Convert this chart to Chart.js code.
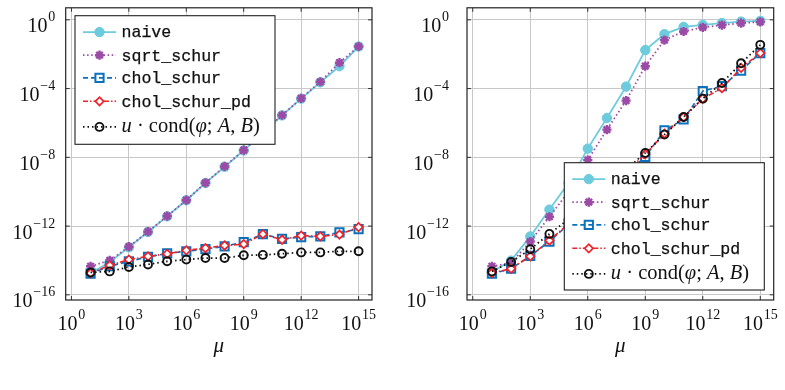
<!DOCTYPE html>
<html>
<head>
<meta charset="utf-8">
<script src="https://cdn.jsdelivr.net/npm/chart.js@4.4.0/dist/chart.umd.min.js"></script>
<style>
html, body { margin: 0; padding: 0; background: #fff; }
#wrap { position: relative; width: 785px; height: 390px; }
.pane { position: absolute; top: 0; }
</style>
</head>
<body>
<div id="wrap">
  <canvas id="left" class="pane" style="left:0" width="392" height="390"></canvas>
  <canvas id="right" class="pane" style="left:392px" width="393" height="390"></canvas>
</div>
<script>
// x values (mu) shared by both panels
const mu = [1e1, 1e2, 1e3, 1e4, 1e5, 1e6, 1e7, 1e8, 1e9, 1e10, 1e11, 1e12, 1e13, 1e14, 1e15];

// left panel
const leftNaive  = [1.86e-15, 7.9e-15, 5.8e-14, 4.5e-13, 3.7e-12, 3.2e-11, 3.2e-10, 2.8e-9, 2.5e-8, 2.7e-7, 2.75e-6, 2.6e-5, 2.3e-4, 2.0e-3, 2.8e-2];
const leftSqrt   = [4.6e-15, 1.0e-14, 6.3e-14, 4.7e-13, 3.8e-12, 3.2e-11, 3.3e-10, 2.95e-9, 2.6e-8, 2.8e-7, 2.8e-6, 2.7e-5, 2.5e-4, 3.2e-3, 2.8e-2];
const leftChol   = [1.7e-15, 4.6e-15, 8.9e-15, 1.6e-14, 2.6e-14, 3.4e-14, 4.6e-14, 6.6e-14, 1.17e-13, 3.4e-13, 1.8e-13, 2.3e-13, 2.5e-13, 4.3e-13, 6.6e-13];
const leftCholPd = [1.8e-15, 5.2e-15, 1.12e-14, 1.74e-14, 2.4e-14, 3.9e-14, 5.2e-14, 7.4e-14, 8.9e-14, 3.4e-13, 1.6e-13, 2.8e-13, 2.5e-13, 3.2e-13, 8.7e-13];
const leftCond   = [2.0e-15, 2.3e-15, 4.2e-15, 5.8e-15, 8.9e-15, 1.12e-14, 1.38e-14, 1.38e-14, 2.0e-14, 2.1e-14, 2.45e-14, 2.95e-14, 2.95e-14, 3.4e-14, 3.4e-14];

// right panel
const rightNaive  = [2.1e-15, 9.8e-15, 2.5e-13, 9.1e-12, 3.2e-10, 3.2e-8, 1.95e-6, 1.3e-4, 1.74e-2, 0.148, 0.39, 0.51, 0.65, 0.79, 0.87];
const rightSqrt   = [4.6e-15, 7.1e-15, 1.26e-13, 3.5e-12, 1.0e-10, 6.9e-9, 4.1e-7, 2.0e-5, 2.0e-3, 6.6e-2, 0.21, 0.36, 0.49, 0.65, 0.76];
const rightChol   = [1.7e-15, 3.3e-15, 1.86e-14, 1.26e-13, 1.26e-12, 1.12e-11, 1.26e-10, 1.12e-9, 1.07e-8, 3.7e-7, 1.6e-6, 7.1e-5, 1.38e-4, 1.12e-3, 1.17e-2];
const rightCholPd = [1.86e-15, 3.3e-15, 1.74e-14, 1.45e-13, 1.38e-12, 1.26e-11, 1.41e-10, 1.41e-9, 1.5e-8, 2.4e-7, 2.2e-6, 2.6e-5, 1.05e-4, 1.6e-3, 1.17e-2];
const rightCond   = [2.3e-15, 8.1e-15, 4.5e-14, 3.5e-13, 2.5e-12, 2.0e-11, 2.0e-10, 2.0e-9, 1.8e-8, 2.1e-7, 2.2e-6, 2.6e-5, 2.1e-4, 2.95e-3, 3.5e-2];

// tick exponents and legend names
const xTickExp = [0, 3, 6, 9, 12, 15];
const yTickExp = [0, -4, -8, -12, -16];
const seriesNames = ['naive', 'sqrt_schur', 'chol_schur', 'chol_schur_pd', 'u·cond(φ;A,B)'];

const serif = '"Liberation Serif", "DejaVu Serif", serif';
const mono = '"Liberation Mono", "DejaVu Sans Mono", monospace';

const looks = [
  { color: '#6ccbdd', dash: [], width: 1.8, style: 'circle', r: 4.7, bg: '#6ccbdd', bw: 1, order: 5 },
  { color: '#9b4aa6', dash: [1.5, 2.6], width: 1.8, style: 'star', r: 4.6, bg: '#9b4aa6', bw: 2.4, order: 4 },
  { color: '#0a72bd', dash: [5, 3], width: 1.6, style: 'rect', r: 5.8, bg: 'rgba(0,0,0,0)', bw: 2, order: 3 },
  { color: '#ee2229', dash: [5, 2, 1.5, 2], width: 1.6, style: 'rectRot', r: 4.2, bg: '#fff', bw: 1.7, order: 2 },
  { color: '#111', dash: [1.5, 3], width: 1.8, style: 'circle', r: 4, bg: 'rgba(0,0,0,0)', bw: 1.9, order: 1 }
];

function makeSets(arrs) {
  return arrs.map((arr, i) => {
    const l = looks[i];
    return {
      label: seriesNames[i],
      data: mu.map((m, k) => ({ x: m, y: arr[k] })),
      borderColor: l.color, borderWidth: l.width, borderDash: l.dash,
      pointStyle: l.style, pointRadius: l.r, pointBackgroundColor: l.bg,
      pointBorderColor: l.color, pointBorderWidth: l.bw, pointHoverRadius: l.r,
      tension: 0, fill: false, order: l.order
    };
  });
}

function drawPow(ctx, exp, x, y, align) {
  const base = '10', sup = exp < 0 ? '\u2212' + (-exp) : String(exp);
  ctx.font = '20px ' + serif;
  const wb = ctx.measureText(base).width;
  ctx.font = '14px ' + serif;
  const ws = ctx.measureText(sup).width;
  const w = wb + 0.8 + ws;
  const x0 = align === 'center' ? x - w / 2 : x - w;
  ctx.fillStyle = '#111';
  ctx.textAlign = 'left';
  ctx.textBaseline = 'alphabetic';
  ctx.font = '20px ' + serif;
  ctx.fillText(base, x0, y);
  ctx.font = '14px ' + serif;
  ctx.fillText(sup, x0 + wb + 0.8, y - 11);
}

function drawMath(ctx, x, y) {
  const parts = [['u', 'italic'], [' \u00b7 ', ''], ['cond', ''], ['(', ''], ['\u03c6', 'italic'], ['; ', ''],
                 ['A', 'italic'], [', ', ''], ['B', 'italic'], [')', '']];
  ctx.textBaseline = 'middle';
  ctx.fillStyle = '#111';
  parts.forEach(p => {
    ctx.font = (p[1] ? p[1] + ' ' : '') + '20.5px ' + serif;
    ctx.fillText(p[0], x, y);
    x += ctx.measureText(p[0]).width;
  });
}

const framePlugin = {
  id: 'frame',
  afterDatasetsDraw(chart, args, opts) {
    const { ctx, chartArea: a } = chart;
    const xs = chart.scales.x, ys = chart.scales.y;
    ctx.save();
    // tick marks inside the frame
    ctx.strokeStyle = '#333';
    ctx.lineWidth = 1;
    ctx.beginPath();
    xs.ticks.forEach(t => {
      const px = xs.getPixelForValue(t.value);
      ctx.moveTo(px, a.top); ctx.lineTo(px, a.top + 4);
      ctx.moveTo(px, a.bottom); ctx.lineTo(px, a.bottom - 4);
    });
    ys.ticks.forEach(t => {
      const py = ys.getPixelForValue(t.value);
      ctx.moveTo(a.left, py); ctx.lineTo(a.left + 4, py);
      ctx.moveTo(a.right, py); ctx.lineTo(a.right - 4, py);
    });
    ctx.stroke();
    ctx.lineWidth = 1.2;
    ctx.strokeStyle = '#222';
    ctx.strokeRect(a.left, a.top, a.right - a.left, a.bottom - a.top);

    // tick labels
    xTickExp.forEach(e => drawPow(ctx, e, xs.getPixelForValue(Math.pow(10, e)), 329.5, 'center'));
    yTickExp.forEach(e => drawPow(ctx, e, a.left - opts.yGap, ys.getPixelForValue(Math.pow(10, e)) + 12.6, 'right'));

    // axis title
    ctx.font = 'italic 21px ' + serif;
    ctx.textAlign = 'center';
    ctx.textBaseline = 'alphabetic';
    ctx.fillStyle = '#111';
    ctx.fillText('\u03bc', (a.left + a.right) / 2, 352);

    // legend
    const b = opts.box;
    ctx.fillStyle = '#fff';
    ctx.fillRect(b.x, b.y, b.w, b.h);
    ctx.lineWidth = 1.1;
    ctx.strokeStyle = '#222';
    ctx.strokeRect(b.x, b.y, b.w, b.h);
    const rows = [16.4, 39.5, 62.2, 85.6, 111.2];
    chart.data.datasets.forEach((ds, i) => {
      const yy = b.y + rows[i];
      ctx.save();
      ctx.strokeStyle = ds.borderColor;
      ctx.lineWidth = ds.borderWidth;
      ctx.setLineDash(ds.borderDash);
      ctx.beginPath();
      ctx.moveTo(b.x + 8, yy); ctx.lineTo(b.x + 41, yy);
      ctx.stroke();
      ctx.setLineDash([]);
      ctx.fillStyle = ds.pointBackgroundColor;
      ctx.strokeStyle = ds.pointBorderColor;
      ctx.lineWidth = ds.pointBorderWidth;
      Chart.helpers.drawPoint(ctx, { pointStyle: ds.pointStyle, rotation: 0, radius: ds.pointRadius, borderWidth: ds.pointBorderWidth }, b.x + 24.5, yy);
      ctx.restore();
      if (i < 4) {
        ctx.font = '16.6px ' + mono;
        ctx.fillStyle = '#111';
        ctx.strokeStyle = '#111';
        ctx.lineWidth = 0.25;
        ctx.textAlign = 'left';
        ctx.textBaseline = 'middle';
        ctx.fillText(ds.label, b.x + 46.5, yy + 1);
        ctx.strokeText(ds.label, b.x + 46.5, yy + 1);
      } else {
        ctx.textAlign = 'left';
        drawMath(ctx, b.x + 46.5, yy);
      }
    });
    ctx.restore();
  }
};

function makeChart(id, arrs, pad, yWidth, yGap, box) {
  return new Chart(document.getElementById(id), {
    type: 'line',
    data: { datasets: makeSets(arrs) },
    options: {
      responsive: false,
      animation: false,
      layout: { padding: { left: 0, top: pad.top, right: pad.right, bottom: 0 } },
      plugins: { legend: { display: false }, tooltip: { enabled: false }, frame: { yGap: yGap, box: box } },
      scales: {
        x: {
          type: 'logarithmic',
          min: Math.pow(10, -0.3), max: Math.pow(10, 15.7),
          afterBuildTicks: s => { s.ticks = xTickExp.map(e => ({ value: Math.pow(10, e) })); },
          afterFit: s => { s.height = 90; },
          ticks: { display: false },
          grid: { color: '#c8c8c8', lineWidth: 1, drawTicks: false },
          border: { display: false }
        },
        y: {
          type: 'logarithmic',
          min: Math.pow(10, -16.3), max: Math.pow(10, 0.7),
          afterBuildTicks: s => { s.ticks = yTickExp.map(e => ({ value: Math.pow(10, e) })); },
          afterFit: s => { s.width = yWidth; },
          ticks: { display: false },
          grid: { color: '#c8c8c8', lineWidth: 1, drawTicks: false },
          border: { display: false }
        }
      }
    },
    plugins: [framePlugin]
  });
}

makeChart('left', [leftNaive, leftSqrt, leftChol, leftCholPd, leftCond],
  { top: 7, right: 20 }, 65.7, 10.5, { x: 75, y: 15.7, w: 200, h: 128.6 });
makeChart('right', [rightNaive, rightSqrt, rightChol, rightCholPd, rightCond],
  { top: 7, right: 11.3 }, 75, 18, { x: 172.3, y: 162.7, w: 200, h: 127.3 });
</script>
</body>
</html>
